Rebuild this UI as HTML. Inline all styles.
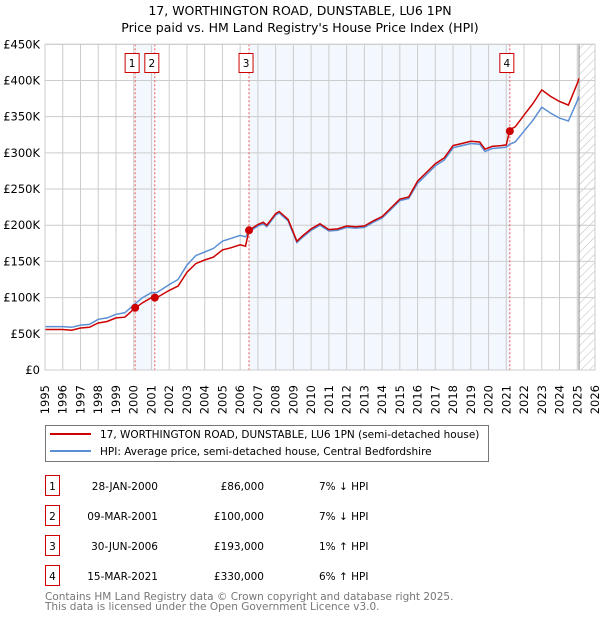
<!DOCTYPE html>
<html><head><meta charset="utf-8"><style>
body{margin:0;background:#fff;font-family:"DejaVu Sans","Liberation Sans",sans-serif;}
</style></head><body>
<svg width="600" height="620" xmlns="http://www.w3.org/2000/svg" font-family="DejaVu Sans, Liberation Sans, sans-serif">
<defs><pattern id="hatch" width="6" height="6" patternUnits="userSpaceOnUse" patternTransform="rotate(45)"><line x1="0" y1="0" x2="0" y2="6" stroke="#bbb" stroke-width="1"/></pattern></defs>
<text x="300" y="15" text-anchor="middle" font-size="12.5">17, WORTHINGTON ROAD, DUNSTABLE, LU6 1PN</text>
<text x="300" y="32" text-anchor="middle" font-size="12.5">Price paid vs. HM Land Registry's House Price Index (HPI)</text>
<g id="plot"></g>
<g>
<rect x="45.5" y="425.5" width="443" height="36" fill="#fff" stroke="#777"/>
<line x1="50" y1="434" x2="91" y2="434" stroke="#cc0000" stroke-width="2"/>
<text x="100" y="438" font-size="10.5">17, WORTHINGTON ROAD, DUNSTABLE, LU6 1PN (semi-detached house)</text>
<line x1="50" y1="451" x2="91" y2="451" stroke="#5b8fd4" stroke-width="2"/>
<text x="100" y="455" font-size="10.5">HPI: Average price, semi-detached house, Central Bedfordshire</text>
</g>
<g id="table" font-size="10.5"></g>
<text x="45" y="600" font-size="10.5" fill="#777">Contains HM Land Registry data © Crown copyright and database right 2025.</text>
<text x="45" y="610" font-size="10.5" fill="#777">This data is licensed under the Open Government Licence v3.0.</text>
</svg>
<script>
const dates=[1995,1996,1996.5,1997,1997.5,1998,1998.5,1999,1999.5,2000,2000.5,2001,2001.3,2002,2002.5,2003,2003.5,2004,2004.5,2005,2005.5,2006,2006.3,2006.5,2007,2007.3,2007.5,2008,2008.2,2008.7,2009.2,2009.5,2010,2010.5,2011,2011.5,2012,2012.5,2013,2013.5,2014,2014.5,2015,2015.5,2016,2016.5,2017,2017.5,2018,2018.5,2019,2019.5,2019.8,2020.2,2020.7,2021,2021.2,2021.5,2022,2022.5,2023,2023.5,2024,2024.5,2025,2025.1];
const hpiValues=[60,60,59,62,63,70,72,77,79,90,100,107,107,118,125,145,158,163,168,178,182,186,184,191,199,202,198,214,217,206,176,183,193,200,192,193,197,196,197,204,210,222,234,237,258,270,282,290,307,310,313,312,302,306,307,308,312,315,330,345,363,355,348,344,372,378];
const priceValues=[56,56,55,58,59,65,67,72,73,84,93,100,100,110,116,135,147,152,156,166,169,173,171,193,201,204,200,216,219,208,178,185,195,202,194,195,199,198,199,206,212,224,236,239,261,273,285,293,310,313,316,315,305,309,310,311,332,336,352,368,387,378,371,366,396,403];
const saleDates=[2000.08,2001.19,2006.5,2021.2];
const salePrices=[86,100,193,330];
const saleLabels=["1","2","3","4"];
const saleDateText=["28-JAN-2000","09-MAR-2001","30-JUN-2006","15-MAR-2021"];
const salePriceText=["£86,000","£100,000","£193,000","£330,000"];
const saleHpiText=["7% ↓ HPI","7% ↓ HPI","1% ↑ HPI","6% ↑ HPI"];
const yTicks=[0,50,100,150,200,250,300,350,400,450];
const yTickLabels=["£0","£50K","£100K","£150K","£200K","£250K","£300K","£350K","£400K","£450K"];
const xYears=[1995,1996,1997,1998,1999,2000,2001,2002,2003,2004,2005,2006,2007,2008,2009,2010,2011,2012,2013,2014,2015,2016,2017,2018,2019,2020,2021,2022,2023,2024,2025,2026];
const X0=45,X1=595,Y0=370,Y1=44.3;
const xs=d=>X0+(d-1995)*(X1-X0)/31;
const ys=v=>Y0-v*(Y0-Y1)/450;
const NS="http://www.w3.org/2000/svg";
const plot=document.getElementById('plot');
function mk(tag,attrs,parent){const e=document.createElementNS(NS,tag);for(const k in attrs)e.setAttribute(k,attrs[k]);(parent||plot).appendChild(e);return e;}
// shading
for(let i=0;i<saleDates.length-1;i+=2){
 const r=mk('rect',{x:xs(saleDates[i]),y:Y1,width:xs(saleDates[i+1])-xs(saleDates[i]),height:Y0-Y1,fill:'#eef3fd',opacity:0.7});
 
 
}
const hx=xs(2025.1);
const hr=mk('rect',{x:hx,y:Y1,width:X1-hx,height:Y0-Y1,fill:'url(#hatch)'});


// grid
yTicks.forEach((t,i)=>{
 const l=mk('line',{x1:X0,x2:X1,y1:ys(t),y2:ys(t),stroke:'#ccc'});
 
 
 const tx=mk('text',{x:40,y:ys(t)+4,'text-anchor':'end','font-size':'11.5'});tx.textContent=yTickLabels[i];
 
 
});
xYears.forEach(y=>{
 const l=mk('line',{x1:xs(y),x2:xs(y),y1:Y1,y2:Y0,stroke:'#ccc'});
 
 
 const tx=mk('text',{x:xs(y),y:385,'text-anchor':'end','font-size':'11.5',transform:`rotate(-90 ${xs(y)} 385) translate(0 4)`});tx.textContent=y;
 
 
});
const vl=mk('line',{x1:hx,x2:hx,y1:Y1,y2:Y0,stroke:'#888','stroke-width':1});


// sale lines & boxes
saleDates.forEach((d,i)=>{
 const l=mk('line',{x1:xs(d),x2:xs(d),y1:Y1,y2:Y0,stroke:'#e55','stroke-dasharray':'2,2'});
 
 
 const cx=xs(d)-3;
 const b=mk('rect',{x:cx-7,y:53.5,width:14,height:19,fill:'#fff',stroke:'#c00'});
 
 
 const t=mk('text',{x:cx,y:67,'text-anchor':'middle','font-size':'10.5'});t.textContent=saleLabels[i];
 
 
});
const pathOf=arr=>arr.map((v,i)=>(i?'L':'M')+xs(dates[i]).toFixed(1)+','+ys(v).toFixed(1)).join('');
const hp=mk('path',{d:pathOf(hpiValues),fill:'none',stroke:'#5b8fd4','stroke-width':1.5});


const pp=mk('path',{d:pathOf(priceValues),fill:'none',stroke:'#cc0000','stroke-width':1.5});


saleDates.forEach((d,i)=>{
 const c=mk('circle',{cx:xs(d),cy:ys(salePrices[i]),r:4,fill:'#cc0000'});
 
 
});
const ax=mk('rect',{x:X0,y:Y1,width:X1-X0,height:Y0-Y1,fill:'none',stroke:'#ccc'});


// table
const tb=document.getElementById('table');
saleLabels.forEach((s,i)=>{
 const y=483+i*30;
 const b=mk('rect',{x:45.5,y:y-7.5,width:14,height:20,fill:'#fff',stroke:'#c00'},tb);
 
 
 const t0=mk('text',{x:52.5,y:y+7,'text-anchor':'middle'},tb);t0.textContent=s;
 
 
 const t1=mk('text',{x:158,y:y+7,'text-anchor':'end'},tb);t1.textContent=saleDateText[i];
 
 
 const t2=mk('text',{x:264,y:y+7,'text-anchor':'end'},tb);t2.textContent=salePriceText[i];
 
 
 const t3=mk('text',{x:319,y:y+7},tb);t3.textContent=saleHpiText[i];
 
 
});
</script>
</body></html>
